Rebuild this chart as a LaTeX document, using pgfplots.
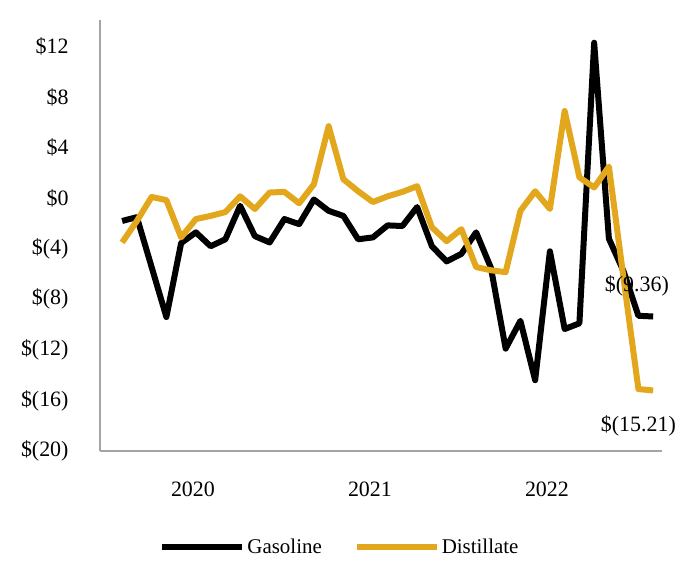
\documentclass[border=0pt]{standalone}
\usepackage{pgfplots}
\pgfplotsset{compat=1.18}
\usepackage{fontspec}
\setmainfont{Liberation Serif}
\definecolor{gold}{RGB}{227,167,29}
\definecolor{axgray}{RGB}{165,165,165}
\begin{document}
\begin{tikzpicture}[font=\fontsize{22}{26}\selectfont]
\useasboundingbox (-100bp,-135bp) rectangle (582bp,451bp);
\begin{axis}[at={(0,0)},anchor=south west,scale only axis,
  width=562bp,height=431bp,
  xmin=-1.5,xmax=36.6,ymin=-20,ymax=14.1,
  axis x line*=bottom,axis y line*=left,
  axis line style={axgray,line width=1.3bp,-},
  major tick length=0pt,
  xtick={4.8,16.8,28.8},xticklabels={2020,2021,2022},
  ytick={-20,-16,...,12},
  yticklabels={\$(20),\$(16),\$(12),\$(8),\$(4),\$0,\$4,\$8,\$12},
  yticklabel style={anchor=east,xshift=-28bp},
  xticklabel style={anchor=north,yshift=-27bp},
  /pgf/number format/assume math mode=true,
  clip=false,
  legend columns=2,
  legend style={at={(0.427,-0.223)},anchor=center,draw=none,fill=none,
    font=\fontsize{21}{25}\selectfont,
    /tikz/every even column/.append style={column sep=30bp}},
  legend image code/.code={\draw[#1](0bp,0bp)--(80bp,0bp);},
]
\addplot[black,line width=6bp,line join=round] coordinates {
(0,-1.8) (1,-1.5) (2,-5.45) (3,-9.4) (4,-3.55) (5,-2.7) (6,-3.8) (7,-3.25)
(8,-0.6) (9,-3.0) (10,-3.5) (11,-1.65) (12,-2.05) (13,-0.1) (14,-1.0) (15,-1.4)
(16,-3.25) (17,-3.1) (18,-2.15) (19,-2.2) (20,-0.7) (21,-3.8) (22,-5.0) (23,-4.4)
(24,-2.7) (25,-5.5) (26,-11.9) (27,-9.7) (28,-14.4) (29,-4.2) (30,-10.35) (31,-9.9)
(32,12.3) (33,-3.2) (34,-5.8) (35,-9.3) (36,-9.36)};
\addlegendentry{Gasoline}
\addplot[gold,line width=6bp,line join=round] coordinates {
(0,-3.5) (1,-1.8) (2,0.1) (3,-0.15) (4,-3.1) (5,-1.65) (6,-1.4) (7,-1.1)
(8,0.15) (9,-0.85) (10,0.45) (11,0.5) (12,-0.4) (13,1.1) (14,5.7) (15,1.5)
(16,0.55) (17,-0.3) (18,0.15) (19,0.5) (20,0.95) (21,-2.3) (22,-3.4) (23,-2.45)
(24,-5.45) (25,-5.7) (26,-5.85) (27,-1.0) (28,0.55) (29,-0.85) (30,6.9) (31,1.65)
(32,0.85) (33,2.5) (34,-6.4) (35,-15.1) (36,-15.21)};
\addlegendentry{Distillate}
\node at (axis cs:34.9,-6.95) {\$(9.36)};
\node at (axis cs:35,-18.0) {\$(15.21)};
\end{axis}
\end{tikzpicture}
\end{document}
